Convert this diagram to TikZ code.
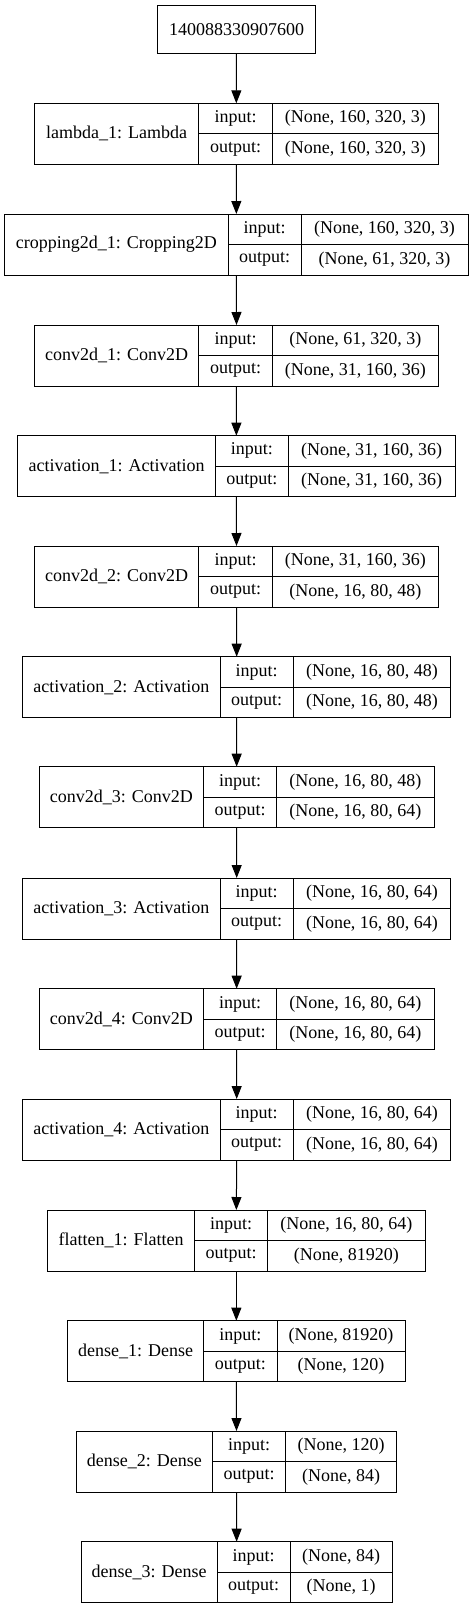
\documentclass[tikz,border=0pt]{standalone}
\usepackage{fontspec}
\setmainfont{Liberation Serif}
\usetikzlibrary{arrows.meta}
\tikzset{
 cell/.style={draw, line width=1pt, inner sep=0pt, outer sep=0pt, anchor=north west, font=\fontsize{18}{21}\selectfont},
 whole/.style={inner sep=0pt, outer sep=0pt, anchor=north west},
 arr/.style={-{Triangle[length=13pt,width=10pt]}, line width=1pt}
}
\newcommand\mklayer[9]{%
 \node[whole, minimum width={(#6-#3)*1pt}, minimum height=61pt] (#1) at (#3,#2) {};
 \node[cell, minimum width={(#4-#3)*1pt}, minimum height=61pt] (#1-name) at (#3,#2) {#7};
 \node[cell, minimum width={(#5-#4)*1pt}, minimum height=30.5pt] (#1-il) at (#4,#2) {input:};
 \node[cell, minimum width={(#5-#4)*1pt}, minimum height=30.5pt] (#1-ol) at (#4,#2+30.5) {output:};
 \node[cell, minimum width={(#6-#5)*1pt}, minimum height=30.5pt] (#1-iv) at (#5,#2) {#8};
 \node[cell, minimum width={(#6-#5)*1pt}, minimum height=30.5pt] (#1-ov) at (#5,#2+30.5) {#9};
}
\begin{document}
\begin{tikzpicture}[x=1pt,y=-1pt]
\useasboundingbox (0,0) rectangle (473,1609);
\node[cell, minimum width=158.4pt, minimum height=48.3pt] (top) at (157.3,5) {140088330907600};
\mklayer{lam}{103.3}{34.3}{198.7}{272.3}{438.3}{lambda\_1: Lambda}{(None, 160, 320, 3)}{(None, 160, 320, 3)}
\mklayer{crop}{214}{4.7}{228}{301}{468}{cropping2d\_1: Cropping2D}{(None, 160, 320, 3)}{(None, 61, 320, 3)}
\mklayer{cA}{325}{34.7}{198.7}{272.3}{438.3}{conv2d\_1: Conv2D}{(None, 61, 320, 3)}{(None, 31, 160, 36)}
\mklayer{aA}{435.7}{17.7}{215.3}{288.3}{455}{activation\_1: Activation}{(None, 31, 160, 36)}{(None, 31, 160, 36)}
\mklayer{cB}{546}{34.7}{198.7}{272.3}{438.3}{conv2d\_2: Conv2D}{(None, 31, 160, 36)}{(None, 16, 80, 48)}
\mklayer{aB}{656.7}{22.7}{220}{293.3}{450.7}{activation\_2: Activation}{(None, 16, 80, 48)}{(None, 16, 80, 48)}
\mklayer{cC}{766.7}{39.3}{203.3}{276.7}{434}{conv2d\_3: Conv2D}{(None, 16, 80, 48)}{(None, 16, 80, 64)}
\mklayer{aC}{878}{22.7}{220}{293.3}{450.7}{activation\_3: Activation}{(None, 16, 80, 64)}{(None, 16, 80, 64)}
\mklayer{cD}{988.7}{39.3}{203.3}{276.7}{434}{conv2d\_4: Conv2D}{(None, 16, 80, 64)}{(None, 16, 80, 64)}
\mklayer{aD}{1099}{22.7}{220}{293.3}{450.7}{activation\_4: Activation}{(None, 16, 80, 64)}{(None, 16, 80, 64)}
\mklayer{fl}{1210}{47.7}{194.3}{267.7}{425}{flatten\_1: Flatten}{(None, 16, 80, 64)}{(None, 81920)}
\mklayer{dA}{1320.7}{67.7}{203.7}{277}{405}{dense\_1: Dense}{(None, 81920)}{(None, 120)}
\mklayer{dB}{1431}{76.3}{212.3}{285.7}{396.7}{dense\_2: Dense}{(None, 120)}{(None, 84)}
\mklayer{dC}{1541.7}{81.3}{217}{290.3}{392}{dense\_3: Dense}{(None, 84)}{(None, 1)}
\draw[arr] (top.south) -- (lam.north);
\draw[arr] (lam.south) -- (crop.north);
\draw[arr] (crop.south) -- (cA.north);
\draw[arr] (cA.south) -- (aA.north);
\draw[arr] (aA.south) -- (cB.north);
\draw[arr] (cB.south) -- (aB.north);
\draw[arr] (aB.south) -- (cC.north);
\draw[arr] (cC.south) -- (aC.north);
\draw[arr] (aC.south) -- (cD.north);
\draw[arr] (cD.south) -- (aD.north);
\draw[arr] (aD.south) -- (fl.north);
\draw[arr] (fl.south) -- (dA.north);
\draw[arr] (dA.south) -- (dB.north);
\draw[arr] (dB.south) -- (dC.north);
\end{tikzpicture}
\end{document}
